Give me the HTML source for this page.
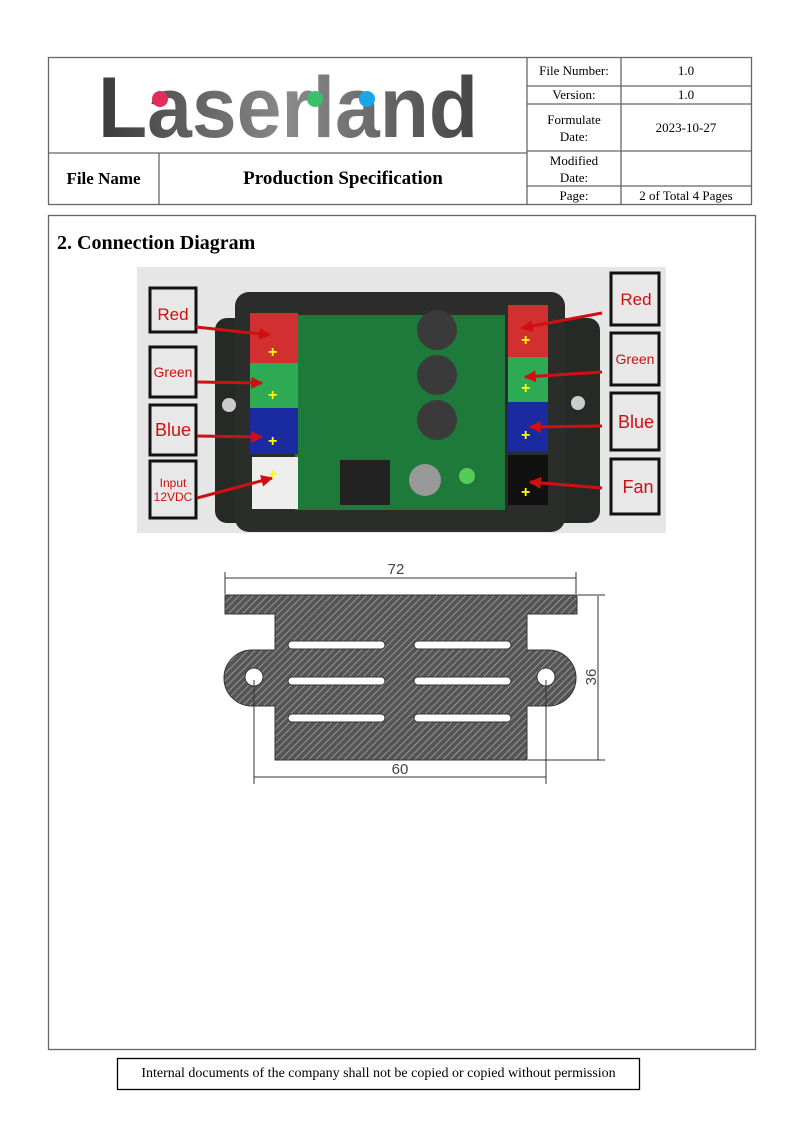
<!DOCTYPE html>
<html><head><meta charset="utf-8"><style>
body{margin:0;background:#fff;width:800px;height:1131px;position:relative;font-family:"Liberation Serif",serif;overflow:hidden}
.a{position:absolute}
</style></head><body>
<svg class="a" style="left:0;top:0" width="800" height="1131">
<g stroke="#666" fill="none" stroke-width="1.3">
<rect x="48.5" y="57.5" width="703" height="147"/>
<line x1="527" y1="57" x2="527" y2="204"/>
<line x1="621" y1="57" x2="621" y2="204"/>
<line x1="48" y1="153" x2="527" y2="153"/>
<line x1="159" y1="153" x2="159" y2="204"/>
<line x1="527" y1="86" x2="751" y2="86"/>
<line x1="527" y1="104" x2="751" y2="104"/>
<line x1="527" y1="151" x2="751" y2="151"/>
<line x1="527" y1="186" x2="751" y2="186"/>
<rect x="48.5" y="215.5" width="707" height="834"/>
<rect x="117.5" y="1058.5" width="522" height="31" stroke="#000"/>
</g>
<defs><linearGradient id="lg" x1="0" x2="1"><stop offset="0" stop-color="#3a3a3a"/><stop offset=".5" stop-color="#8a8a8a"/><stop offset="1" stop-color="#444"/></linearGradient>
<pattern id="h" width="5" height="5" patternUnits="userSpaceOnUse" patternTransform="rotate(45)"><rect width="5" height="5" fill="#555"/><line x1="0" y1="0" x2="0" y2="5" stroke="#aaa" stroke-width="1.5"/></pattern>
<marker id="ar" viewBox="0 0 10 10" refX="9" refY="5" markerWidth="4" markerHeight="4" orient="auto"><path d="M0 0L10 5L0 10Z" fill="#d01010"/></marker></defs>
<text x="288" y="137" font-family="Liberation Sans" font-weight="bold" font-size="86" fill="url(#lg)" text-anchor="middle" textLength="380" lengthAdjust="spacingAndGlyphs">Laserland</text>
<circle cx="160" cy="99" r="8" fill="#e0305a"/><circle cx="315" cy="99" r="8" fill="#3cbf6a"/><circle cx="367" cy="99" r="8" fill="#1aa6e6"/>
<rect x="137" y="267" width="529" height="266" fill="#e6e6e6"/>
<rect x="215" y="318" width="385" height="205" rx="12" fill="#262a26"/>
<rect x="235" y="292" width="330" height="240" rx="14" fill="#2a2d2a"/>
<circle cx="229" cy="405" r="7" fill="#ccc"/><circle cx="578" cy="403" r="7" fill="#ccc"/>
<rect x="295" y="315" width="210" height="195" fill="#1e7a3a"/>
<rect x="250" y="313" width="48" height="50" fill="#d23030"/>
<rect x="250" y="363" width="48" height="45" fill="#2eaa55"/>
<rect x="250" y="408" width="48" height="46" fill="#1a2aa0"/>
<rect x="252" y="457" width="46" height="52" fill="#eee"/>
<rect x="508" y="305" width="40" height="52" fill="#d23030"/>
<rect x="508" y="357" width="40" height="45" fill="#2eaa55"/>
<rect x="508" y="402" width="40" height="50" fill="#1a2aa0"/>
<rect x="508" y="455" width="40" height="50" fill="#111"/>
<g fill="#3a3a3a"><circle cx="437" cy="330" r="20"/><circle cx="437" cy="375" r="20"/><circle cx="437" cy="420" r="20"/></g>
<rect x="340" y="460" width="50" height="45" fill="#222"/>
<circle cx="425" cy="480" r="16" fill="#999"/><circle cx="467" cy="476" r="8" fill="#5c5"/>
<g fill="#e8e8e8" stroke="#111" stroke-width="3">
<rect x="150" y="288" width="46" height="44"/><rect x="150" y="347" width="46" height="50"/><rect x="150" y="405" width="46" height="50"/><rect x="150" y="461" width="46" height="57"/>
<rect x="611" y="273" width="48" height="52"/><rect x="611" y="333" width="48" height="52"/><rect x="611" y="393" width="48" height="57"/><rect x="611" y="459" width="48" height="55"/>
</g>
<g stroke="#d01010" stroke-width="3" fill="none" marker-end="url(#ar)">
<line x1="196" y1="327" x2="270" y2="335"/><line x1="197" y1="382" x2="262" y2="383"/><line x1="197" y1="436" x2="262" y2="437"/><line x1="197" y1="498" x2="272" y2="478"/>
<line x1="602" y1="313" x2="522" y2="328"/><line x1="602" y1="372" x2="525" y2="377"/><line x1="602" y1="426" x2="530" y2="427"/><line x1="602" y1="488" x2="530" y2="482"/>
</g>
<g fill="#ff0" font-family="Liberation Sans" font-weight="bold" font-size="16"><text x="268" y="357">+</text><text x="268" y="400">+</text><text x="268" y="446">+</text><text x="268" y="479">+</text><text x="521" y="345">+</text><text x="521" y="393">+</text><text x="521" y="440">+</text><text x="521" y="497">+</text></g>
<g fill="#d01010" font-family="Liberation Sans" text-anchor="middle">
<text x="173" y="320" font-size="17">Red</text><text x="173" y="377" font-size="14">Green</text><text x="173" y="436" font-size="18">Blue</text><text x="173" y="487" font-size="12">Input</text><text x="173" y="501" font-size="12">12VDC</text>
<text x="636" y="305" font-size="17">Red</text><text x="635" y="364" font-size="14">Green</text><text x="636" y="428" font-size="18">Blue</text><text x="638" y="493" font-size="18">Fan</text>
</g>
<path d="M225 595H577V614H527V650H548A28 28 0 0 1 548 706H527V760H275V706H252A28 28 0 0 1 252 650H275V614H225Z" fill="url(#h)" stroke="#333"/>
<g fill="#fff" stroke="#333"><circle cx="254" cy="677" r="9"/><circle cx="546" cy="677" r="9"/>
<rect x="288" y="641" width="97" height="8" rx="4"/><rect x="414" y="641" width="97" height="8" rx="4"/>
<rect x="288" y="677" width="97" height="8" rx="4"/><rect x="414" y="677" width="97" height="8" rx="4"/>
<rect x="288" y="714" width="97" height="8" rx="4"/><rect x="414" y="714" width="97" height="8" rx="4"/></g>
<g stroke="#333" stroke-width="1">
<line x1="225" y1="578" x2="576" y2="578"/><line x1="225" y1="572" x2="225" y2="594"/><line x1="576" y1="572" x2="576" y2="594"/>
<line x1="598" y1="596" x2="598" y2="760"/><line x1="578" y1="595" x2="605" y2="595"/><line x1="528" y1="760" x2="605" y2="760"/>
<line x1="254" y1="777" x2="546" y2="777"/><line x1="254" y1="680" x2="254" y2="784"/><line x1="546" y1="680" x2="546" y2="784"/>
</g>
<g font-family="Liberation Sans" font-size="15" fill="#444" text-anchor="middle"><text x="396" y="574">72</text><text x="400" y="774">60</text><text transform="translate(596,677) rotate(-90)">36</text></g>
</svg>
<div class="a" style="left:527px;top:63px;width:94px;text-align:center;font-size:13px">File Number:</div>
<div class="a" style="left:621px;top:63px;width:130px;text-align:center;font-size:13px">1.0</div>
<div class="a" style="left:527px;top:87px;width:94px;text-align:center;font-size:13px">Version:</div>
<div class="a" style="left:621px;top:87px;width:130px;text-align:center;font-size:13px">1.0</div>
<div class="a" style="left:527px;top:111px;width:94px;text-align:center;font-size:13px;line-height:17px">Formulate<br>Date:</div>
<div class="a" style="left:621px;top:120px;width:130px;text-align:center;font-size:13px">2023-10-27</div>
<div class="a" style="left:527px;top:152px;width:94px;text-align:center;font-size:13px;line-height:17px">Modified<br>Date:</div>
<div class="a" style="left:527px;top:188px;width:94px;text-align:center;font-size:13px">Page:</div>
<div class="a" style="left:621px;top:188px;width:130px;text-align:center;font-size:13px">2 of Total 4 Pages</div>
<div class="a" style="left:48px;top:169px;width:111px;text-align:center;font-size:17px;font-weight:bold">File Name</div>
<div class="a" style="left:159px;top:168px;width:368px;text-align:center;font-size:19px;font-weight:bold">Production Specification</div>
<div class="a" style="left:57px;top:232px;font-size:20px;font-weight:bold">2. Connection Diagram</div>
<div class="a" style="left:117px;top:1066px;width:523px;text-align:center;font-size:14px">Internal documents of the company shall not be copied or copied without permission</div>
</body></html>
